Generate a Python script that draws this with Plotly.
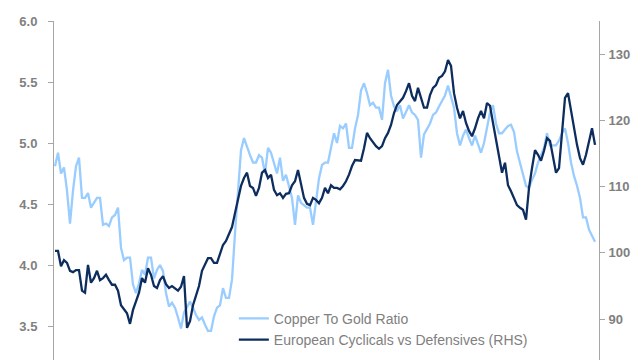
import plotly.graph_objects as go

# Copper to Gold ratio (LHS), sampled evenly through time
copper_gold = [
    4.81, 4.92, 4.75, 4.80, 4.61, 4.34, 4.61, 4.81, 4.88, 4.55,
    4.55, 4.59, 4.47, 4.51, 4.55, 4.55, 4.33, 4.34, 4.32, 4.39,
    4.41, 4.47, 4.14, 4.04, 4.06, 4.06, 3.84, 3.77, 3.85, 3.96,
    3.92, 4.06, 4.06, 3.89, 3.96, 4.00, 3.95, 3.77, 3.66, 3.69,
    3.65, 3.57, 3.48, 3.61, 3.66, 3.70, 3.65, 3.59, 3.55, 3.57,
    3.51, 3.46, 3.46, 3.58, 3.65, 3.67, 3.81, 3.73, 3.73, 3.88,
    4.26, 4.63, 4.94, 5.04, 4.96, 4.90, 4.84, 4.84, 4.90, 4.88,
    4.75, 4.96, 4.92, 4.84, 4.75, 4.88, 4.69, 4.74, 4.65, 4.55,
    4.33, 4.57, 4.51, 4.49, 4.47, 4.47, 4.33, 4.52, 4.71, 4.82,
    4.84, 4.84, 4.96, 5.08, 5.00, 5.14, 5.12, 5.16, 4.96, 4.96,
    5.12, 5.23, 5.43, 5.49, 5.41, 5.31, 5.33, 5.29, 5.29, 5.19,
    5.49, 5.60, 5.39, 5.30, 5.26, 5.31, 5.20, 5.25, 5.31, 5.25,
    5.23, 5.19, 4.88, 5.07, 5.12, 5.16, 5.23, 5.25, 5.30, 5.35,
    5.39, 5.47, 5.39, 5.29, 5.08, 4.98, 5.06, 5.11, 5.04, 4.98,
    5.06, 4.98, 4.92, 5.00, 5.14, 5.25, 5.31, 5.16, 5.08, 5.08,
    5.11, 5.14, 5.15, 5.09, 4.93, 4.84, 4.73, 4.65, 4.63, 4.70,
    4.75, 4.84, 4.90, 4.96, 5.08, 4.98, 4.98, 4.98, 5.02, 5.08,
    5.12, 5.00, 4.84, 4.73, 4.65, 4.55, 4.39, 4.39, 4.29, 4.24,
    4.19,
]

# European Cyclicals vs Defensives (RHS)
cyc_vs_def = [
    100.3, 100.3, 98.0, 98.9, 98.5, 97.3, 97.1, 97.4, 97.4, 94.3,
    94.0, 98.2, 95.5, 96.2, 97.3, 95.9, 96.2, 96.7, 95.9, 95.2,
    95.2, 94.3, 92.1, 91.4, 90.9, 89.3, 91.4, 92.7, 94.0, 96.2,
    95.5, 97.7, 96.7, 95.0, 94.7, 95.9, 96.5, 95.3, 94.7, 95.0,
    94.7, 94.3, 94.9, 96.5, 88.7, 89.7, 92.1, 93.6, 95.0, 97.3,
    98.2, 99.2, 99.2, 98.5, 98.5, 99.7, 101.2, 101.8, 103.0, 103.9,
    106.0, 108.3, 110.1, 111.3, 112.1, 110.1, 109.8, 108.6, 109.8, 112.1,
    112.5, 111.3, 111.8, 109.5, 108.7, 109.0, 108.3, 108.9, 109.0, 110.2,
    110.8, 112.5, 110.2, 108.3, 107.4, 107.2, 108.3, 108.0, 107.5, 108.3,
    109.8, 109.0, 110.2, 109.8, 109.8, 109.6, 110.1, 110.8, 111.8, 113.1,
    114.0, 114.0, 113.9, 115.8, 118.1, 117.3, 116.6, 116.1, 115.7, 116.1,
    117.3, 118.1, 119.3, 121.1, 122.3, 122.9, 123.4, 124.4, 125.6, 123.7,
    122.9, 124.9, 123.4, 121.9, 121.9, 123.8, 124.9, 125.3, 126.4, 126.7,
    127.4, 129.1, 128.2, 124.1, 121.9, 120.3, 121.4, 119.6, 118.4, 117.6,
    118.8, 120.3, 121.4, 120.3, 122.6, 122.2, 119.6, 116.9, 114.3, 112.1,
    113.6, 110.2, 109.3, 108.3, 107.2, 106.8, 106.5, 105.0, 109.8, 112.8,
    115.5, 114.8, 113.9, 115.4, 117.3, 116.9, 114.3, 112.1, 112.8, 118.5,
    123.4, 124.1, 121.4, 118.8, 116.3, 114.3, 113.3, 114.8, 116.6, 118.8,
    116.3,
]

left_ticks = [3.5, 4.0, 4.5, 5.0, 5.5, 6.0]
right_ticks = [90, 100, 110, 120, 130]

names = ["Copper To Gold Ratio", "European Cyclicals vs Defensives (RHS)"]

idx = list(range(len(copper_gold)))

fig = go.Figure()
fig.add_trace(go.Scatter(x=idx, y=copper_gold, name=names[0], mode="lines",
                         line=dict(color="#99CCFF", width=2.3), yaxis="y"))
fig.add_trace(go.Scatter(x=idx, y=cyc_vs_def, name=names[1], mode="lines",
                         line=dict(color="#0C2D5E", width=2.3), yaxis="y2"))

tick_font = dict(family="Liberation Sans, Arial", size=13, color="#808080",
                 weight="bold")
axis_col = "#A6A6A6"

fig.update_layout(
    width=640, height=360,
    margin=dict(l=46, r=49, t=13, b=0),
    paper_bgcolor="white", plot_bgcolor="white",
    showlegend=True,
    legend=dict(x=0.33, y=0.035, xanchor="left", yanchor="bottom",
                bgcolor="rgba(0,0,0,0)", tracegroupgap=0,
                font=dict(family="Liberation Sans, Arial", size=14, color="#808080")),
    xaxis=dict(visible=False, range=[-0.333, 181.33]),
    yaxis=dict(range=[3.156, 6.0], tickvals=left_ticks, tickformat=".1f",
               showgrid=False, zeroline=False, showline=True, linecolor=axis_col,
               linewidth=1, ticks="outside", ticklen=5, tickcolor=axis_col,
               tickfont=tick_font, ticklabelstandoff=8),
    yaxis2=dict(range=[82.64, 134.98], tickvals=right_ticks, overlaying="y",
                side="right", showgrid=False, zeroline=False, showline=True,
                linecolor=axis_col, linewidth=1, ticks="outside", ticklen=5,
                tickcolor=axis_col, tickfont=tick_font, ticklabelstandoff=1),
)

fig.write_html("out.html")
